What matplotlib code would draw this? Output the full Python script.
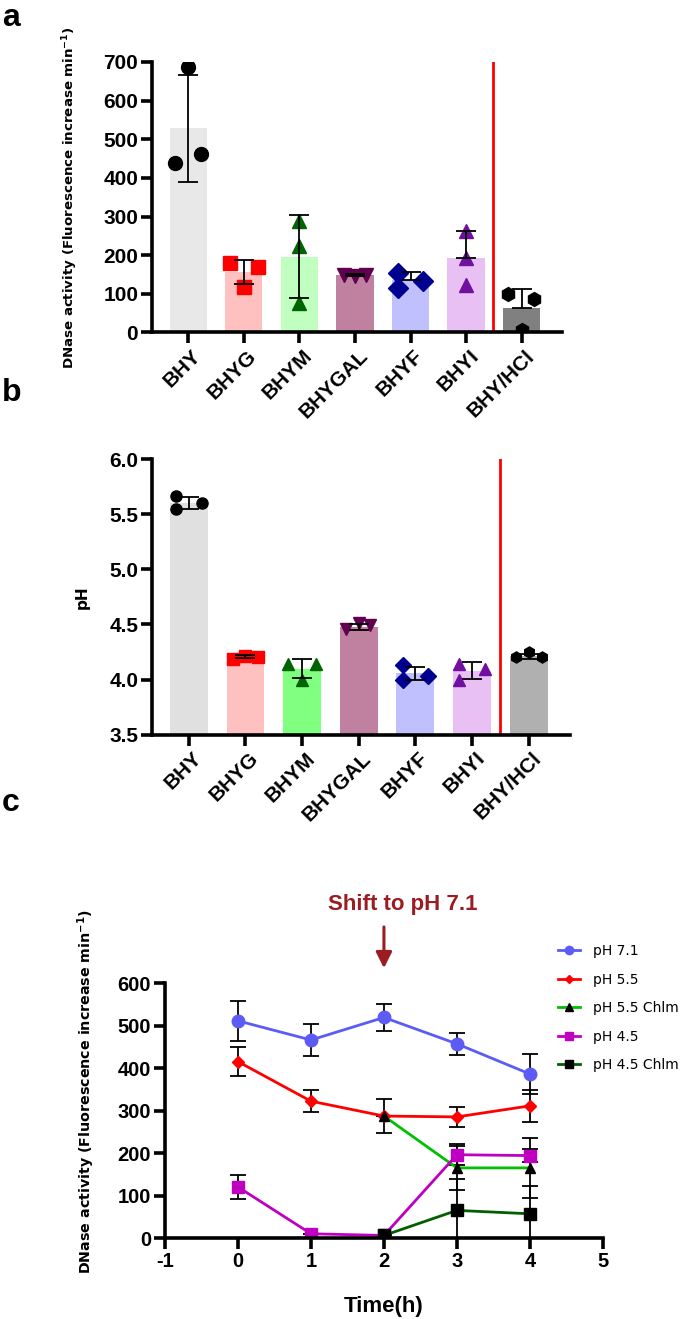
import matplotlib
matplotlib.use("Agg")
import matplotlib.pyplot as plt
import matplotlib.transforms as mtrans
from matplotlib.lines import Line2D

plt.rcParams["axes.unicode_minus"] = False
tick_font = "Liberation Sans"

groups = ["BHY", "BHYG", "BHYM", "BHYGAL", "BHYF", "BHYI", "BHY/HCl"]

# panel a - DNase activity
dnase_mean = [528, 156, 196, 148, 135, 192, 63]
dnase_lo = [138, 31, 108, 3, 0, 0, 0]
dnase_hi = [138, 31, 108, 3, 22, 70, 50]
dnase_pts = [[438, 686, 461], [179, 118, 169], [76, 224, 289], [149, 147, 149],
             [155, 116, 133], [122, 193, 263], [100, 5, 86]]

# panel b - pH
ph_mean = [5.60, 4.21, 4.10, 4.475, 4.055, 4.08, 4.21]
ph_sd = [0.057, 0.015, 0.087, 0.026, 0.055, 0.076, 0.022]
ph_pts = [[5.667, 5.545, 5.60], [4.19, 4.215, 4.20], [4.145, 4.0, 4.145], [4.455, 4.51, 4.495],
          [4.13, 4.0, 4.036], [4.145, 3.995, 4.094], [4.2, 4.25, 4.2]]

# panel c - time course
time = [0, 1, 2, 3, 4]
ph71 = [511, 466, 519, 457, 386]
ph71_sd = [47, 38, 32, 26, 48]
ph55 = [415, 322, 287, 285, 311]
ph55_sd = [34, 26, 39, 24, 37]
time_chlm = [2, 3, 4]
ph55c = [287, 165, 165]
ph55c_sd = [0, 52, 70]
ph45 = [120, 10, 6, 196, 194]
ph45_sd = [28, 0, 0, 25, 16]
ph45c = [6, 65, 57]
ph45c_sd = [0, 74, 65]

# styles
bar_a = ["#e8e8e8", "#ffc0c0", "#c0ffc0", "#c0809f", "#c0c0ff", "#e8c0f4", "#808080"]
bar_b = ["#e0e0e0", "#ffc0c0", "#80ff80", "#c0809f", "#c0c0ff", "#e8c0f4", "#b0b0b0"]
pt_col = ["black", "red", "#006400", "#600050", "#000090", "#7010a0", "black"]
pt_mk = ["o", "s", "^", "v", "D", "^", "h"]
jit_a = [[-0.23, 0, 0.23], [-0.25, 0, 0.25], [0, 0, 0], [-0.2, 0, 0.2],
         [-0.22, -0.22, 0.22], [0, 0, 0], [-0.25, 0, 0.23]]
jit_b = [[-0.23, -0.23, 0.23], [-0.22, 0, 0.22], [-0.25, 0, 0.25], [-0.22, 0, 0.2],
         [-0.22, -0.22, 0.22], [-0.23, -0.23, 0.23], [-0.23, 0, 0.23]]

fig = plt.figure(figsize=(6.85, 13.19), dpi=100)


def style_axis(ax, size=15):
    for s in ["top", "right"]:
        ax.spines[s].set_visible(False)
    for s in ["left", "bottom"]:
        ax.spines[s].set_linewidth(2.6)
    ax.tick_params(direction="out", length=8, width=2.6, labelsize=size, pad=2)
    for lab in ax.get_yticklabels() + ax.get_xticklabels():
        lab.set_fontfamily(tick_font)
        lab.set_fontweight("bold")


def bar_panel(ax, means, lo, hi, pts, jit, colors, ms):
    x = range(len(groups))
    ax.bar(x, means, width=0.67, color=colors, zorder=1)
    for i in x:
        xs = [i + j for j in jit[i]]
        ax.plot(xs, pts[i], linestyle="none", marker=pt_mk[i], color=pt_col[i], ms=ms, zorder=2)
    ax.errorbar(x, means, yerr=[lo, hi], fmt="none", ecolor="black", elinewidth=1.3,
                capsize=7, capthick=1.3, zorder=3)
    ax.axvline(5.49, color="red", lw=2, zorder=0)
    ax.set_xticks(list(x))
    ax.set_xticklabels(groups)
    style_axis(ax)
    off = mtrans.ScaledTranslation(0.03, 0, fig.dpi_scale_trans)
    for lab in ax.get_xticklabels():
        lab.set_rotation(45)
        lab.set_ha("right")
        lab.set_va("top")
        lab.set_rotation_mode("anchor")
        lab.set_transform(lab.get_transform() + off)


# ---- panel a
ax1 = fig.add_axes([0.222, 0.748, 0.598, 0.205])
bar_panel(ax1, dnase_mean, dnase_lo, dnase_hi, dnase_pts, jit_a, bar_a, 10)
ax1.set_xlim(-0.65, 6.72)
ax1.set_ylim(0, 700)
ax1.set_yticks(range(0, 701, 100))
for lab in ax1.get_yticklabels():
    lab.set_fontfamily(tick_font)
    lab.set_fontweight("bold")
ax1.set_ylabel("DNase activity (Fluorescence increase min$^{\\mathbf{-1}}$)",
               fontsize=9.6, fontweight="bold")
ax1.yaxis.set_label_coords(-0.175, 0.5)

# ---- panel b
ax2 = fig.add_axes([0.222, 0.443, 0.610, 0.209])
bar_panel(ax2, ph_mean, ph_sd, ph_sd, ph_pts, jit_b, bar_b, 8)
ax2.set_xlim(-0.65, 6.73)
ax2.set_ylim(3.5, 6.0)
ax2.set_yticks([3.5, 4.0, 4.5, 5.0, 5.5, 6.0])
ax2.set_yticklabels(["3.5", "4.0", "4.5", "5.0", "5.5", "6.0"], fontfamily=tick_font, fontweight="bold")
ax2.set_ylabel("pH", fontsize=11, fontweight="bold")
ax2.yaxis.set_label_coords(-0.148, 0.5)

# ---- panel c
ax3 = fig.add_axes([0.241, 0.0614, 0.639, 0.1933])
eb = dict(ecolor="black", elinewidth=1.3, capsize=6, capthick=1.3)
ax3.errorbar(time, ph71, yerr=ph71_sd, color="#5c5cf5", marker="o", ms=9, lw=2, **eb)
ax3.errorbar(time, ph55, yerr=ph55_sd, color="red", marker="D", ms=6.5, lw=2, **eb)
ax3.errorbar(time_chlm, ph55c, yerr=ph55c_sd, color="#00c000", marker="^", ms=7.5, mfc="black",
             mec="black", lw=2, **eb)
ax3.errorbar(time, ph45, yerr=ph45_sd, color="#c000c0", marker="s", ms=9, lw=2, **eb)
ax3.errorbar(time_chlm, ph45c, yerr=ph45c_sd, color="#006000", marker="s", ms=8, mfc="black",
             mec="black", lw=2, **eb)
ax3.set_xlim(-1, 5)
ax3.set_ylim(0, 600)
ax3.set_xticks(range(-1, 6))
ax3.set_yticks(range(0, 601, 100))
style_axis(ax3, 14.5)
ax3.set_ylabel("DNase activity (Fluorescence increase min$^{\\mathbf{-1}}$)",
               fontsize=10.3, fontweight="bold")
ax3.yaxis.set_label_coords(-0.155, 0.576)
ax3.set_xlabel("Time(h)", fontsize=16, fontweight="bold", fontfamily=tick_font, labelpad=18)

handles = [
    Line2D([], [], color="#5c5cf5", lw=2, marker="o", ms=6),
    Line2D([], [], color="red", lw=2, marker="D", ms=4.5),
    Line2D([], [], color="#00c000", lw=2, marker="^", ms=6, mfc="black", mec="black"),
    Line2D([], [], color="#c000c0", lw=2, marker="s", ms=6),
    Line2D([], [], color="#006000", lw=2, marker="s", ms=6, mfc="black", mec="black"),
]
labels = ["pH 7.1", "pH 5.5", "pH 5.5 Chlm", "pH 4.5", "pH 4.5 Chlm"]
fig.legend(handles, labels, loc="upper left", bbox_to_anchor=(558 / 685, 1 - 944 / 1319),
           frameon=False, handlelength=1.6, handletextpad=0.9, labelspacing=1.05,
           borderpad=0, borderaxespad=0, prop={"family": "DejaVu Sans", "size": 10})

ax3.annotate("", xy=(2, 635), xytext=(2, 732), annotation_clip=False,
             arrowprops=dict(arrowstyle="-|>", color="#9b1c22", lw=2.2, mutation_scale=24,
                             shrinkA=0, shrinkB=0))
ax3.text(2.26, 784, "Shift to pH 7.1", color="#9b1c22", fontsize=16, fontweight="bold",
         fontfamily=tick_font, ha="center", va="center", clip_on=False)

# panel letters
fig.text(0.003, 0.986, "a", fontsize=23, fontweight="bold", va="center", fontfamily=tick_font)
fig.text(0.003, 0.702, "b", fontsize=23, fontweight="bold", va="center", fontfamily=tick_font)
fig.text(0.003, 0.391, "c", fontsize=23, fontweight="bold", va="center", fontfamily=tick_font)

fig.savefig("out.png", dpi=100)
